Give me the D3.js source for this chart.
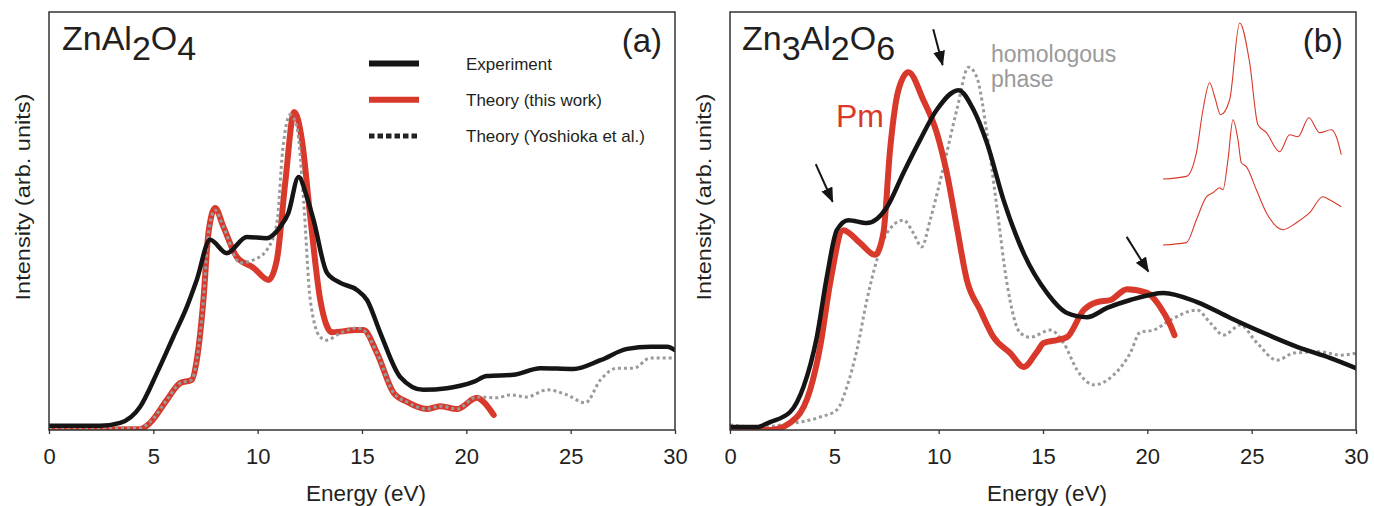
<!DOCTYPE html>
<html>
<head>
<meta charset="utf-8">
<script src="https://cdn.jsdelivr.net/npm/d3@7"></script>
<style>
body { margin: 0; background: #fff; }
text { font-family: "Liberation Sans", Arial, sans-serif; fill: #231f20; }
</style>
</head>
<body>
<svg id="chart"></svg>
<script>
// energy ticks shared by both panels
var energyTicks = [0, 5, 10, 15, 20, 25, 30];

// panel (a) ZnAl2O4 : [energy eV, intensity arb.]
var aExperiment = [[0,1.0],[2.45,1.0],[3.41,1.7],[4.36,5.5],[5.17,13.6],[5.95,22.2],[6.6,29.4],[7.08,35.9],[7.72,45.5],[8.52,42.3],[9.48,46.2],[10.44,45.9],[11.08,48.6],[11.47,51.9],[11.96,60.5],[12.36,55.7],[12.68,50.2],[13.32,37.6],[13.96,35.2],[14.76,33.5],[15.24,31.1],[15.88,23.2],[16.83,12.7],[17.94,9.6],[19.07,10.0],[20.34,11.5],[20.99,12.9],[22.25,13.2],[23.55,14.8],[25.13,14.6],[26.43,16.7],[27.71,19.4],[28.83,19.9],[29.63,19.9],[30,19.1]];
var aTheory = [[0,0],[4.36,0.2],[4.84,1.7],[5.65,7.2],[6.28,11.2],[6.84,12.0],[7.08,16.7],[7.4,31.1],[7.64,47.1],[7.96,53.1],[8.36,48.6],[9.0,41.4],[9.8,38.8],[10.52,35.9],[10.92,40.7],[11.32,59.1],[11.75,76.1],[12.12,69.4],[12.52,51.0],[13.0,31.1],[13.56,23.4],[14.76,23.9],[15.07,23.9],[15.72,18.4],[16.51,8.9],[17.16,6.7],[18.11,5.0],[18.75,5.7],[19.55,5.0],[20.51,7.7],[20.83,6.7],[21.31,3.6]];
var aYoshioka = [[0,0.5],[4.36,0.5],[4.84,1.9],[5.65,7.2],[6.28,11.2],[6.84,12.0],[7.08,16.7],[7.4,31.1],[7.64,47.1],[7.96,52.6],[8.36,48.6],[9.16,40.0],[9.8,40.7],[10.44,43.1],[10.92,49.5],[11.2,67.0],[11.56,75.4],[11.88,72.5],[12.2,55.0],[12.52,31.1],[13.0,22.2],[13.3,21.5],[13.96,23.2],[14.76,24.4],[15.07,23.9],[15.72,18.4],[16.51,8.9],[17.16,6.7],[18.11,5.0],[18.75,5.7],[19.55,5.0],[20.5,7.9],[21.47,7.7],[22.1,8.4],[22.9,7.9],[23.87,9.6],[24.83,8.4],[25.7,6.5],[26.43,12.0],[27.23,14.8],[28.03,14.8],[28.8,17.2],[29.9,17.2]];

// panel (b) Zn3Al2O6
var bExperiment = [[0,0.7],[1.28,0.7],[1.92,1.9],[2.88,4.3],[3.52,10.3],[4.16,22.2],[4.64,36.6],[5.12,47.8],[5.67,50.2],[6.56,49.5],[7.52,53.3],[8.31,61.5],[9.11,69.4],[9.91,76.6],[10.95,81.3],[11.67,76.6],[12.31,68.7],[13.11,55.0],[14.07,42.3],[15.19,32.8],[16.15,28.0],[17.11,27.0],[18.07,29.2],[19.18,31.1],[20.78,32.8],[22.38,30.6],[23.98,26.8],[25.58,23.2],[27.18,19.9],[28.78,17.2],[30,14.8]];
var bPm = [[0,0],[1.92,0],[3.2,3.1],[3.84,9.6],[4.32,19.9],[4.8,35.2],[5.43,47.8],[6.24,44.7],[6.95,41.9],[7.35,47.1],[7.67,67.0],[8.07,81.3],[8.55,85.6],[9.27,78.9],[9.91,71.1],[10.39,61.5],[10.87,48.6],[11.35,35.9],[11.99,28.7],[12.63,22.2],[13.43,18.4],[14.07,15.1],[14.71,18.7],[15.03,20.8],[15.67,21.5],[16.15,22.2],[16.95,28.7],[17.59,30.6],[18.23,31.1],[19.03,33.7],[19.99,32.8],[20.62,29.4],[21.1,25.1],[21.3,22.7]];
var bHomologous = [[0,1.2],[1.44,0.7],[2.72,1.4],[4.32,3.1],[5.12,4.8],[5.6,10.3],[6.08,19.1],[6.56,31.1],[7.04,40.7],[7.52,47.1],[8.31,50.2],[8.79,47.1],[9.19,43.8],[9.59,50.2],[10.23,62.9],[10.87,76.6],[11.43,86.8],[11.83,84.4],[12.31,71.1],[12.79,53.3],[13.27,35.2],[13.91,23.2],[14.39,22.2],[15.35,23.9],[15.99,20.8],[16.63,14.4],[17.43,10.8],[18.39,13.2],[19.18,18.4],[19.66,23.4],[20.3,23.9],[21.1,26.3],[22.38,28.7],[23.02,25.6],[23.66,22.7],[24.46,25.1],[25.26,20.8],[26.22,16.7],[27.02,18.4],[28.3,18.7],[29.26,17.9],[30,18.4]];

// small red inset spectra in panel (b)
var insetUpper = [[0,0],[3.92,1.7],[5.6,16.9],[6.7,44.4],[7.82,61.7],[8.66,52.7],[9.66,41.2],[11.17,50.8],[12.85,100],[14.52,74.6],[15.91,34.8],[17.32,29.7],[19.55,17.5],[21.22,28.4],[22.61,27.1],[24.46,39.3],[26.25,29.7],[28.21,31.6],[29.05,27.1],[29.88,15.6]];
var insetLower = [[0,0],[3.92,1.5],[5.6,16.2],[7.27,30.9],[8.38,33.5],[9.5,36.7],[10.05,35.4],[10.89,54.7],[11.73,80.3],[12.56,67.5],[13.13,52.7],[13.97,50.2],[15.65,35.4],[17.32,20.7],[20.1,9.8],[22.35,14.3],[24.58,20.7],[26.8,30.9],[27.92,29.0],[29.88,24.5]];

// arrows in panel (b): [from, to] in [energy, intensity]
var arrowsB = [
    [[9.74,95.9],[10.19,87.3]],
    [[4.11,63.6],[4.92,54.6]],
    [[19.01,46.2],[20.05,37.9]]
];

var legendItems = ["Experiment", "Theory (this work)", "Theory (Yoshioka et al.)"];

var width = 1374;
var height = 506;
var plotTop = 12, plotBottom = 430;
var red = "#d8392b", black = "#161414", grey = "#9a9a9a";

var svg = d3.select("#chart")
    .attr("width", width)
    .attr("height", height);

var yScale = d3.scaleLinear().domain([0, 100]).range([plotBottom, plotTop]);

var defs = svg.append("defs");
defs.append("marker")
    .attr("id", "head")
    .attr("markerUnits", "userSpaceOnUse")
    .attr("markerWidth", 15).attr("markerHeight", 12)
    .attr("viewBox", "0 0 15 12")
    .attr("refX", 14).attr("refY", 6)
    .attr("orient", "auto")
    .append("path")
    .attr("d", "M0,0 L15,6 L0,12 Z")
    .attr("fill", black);

function drawFrame(x, id, label) {
    defs.append("clipPath").attr("id", id)
        .append("rect")
        .attr("x", x.range()[0]).attr("y", plotTop)
        .attr("width", x.range()[1] - x.range()[0]).attr("height", plotBottom - plotTop);

    var axis = d3.axisBottom(x)
        .tickValues(energyTicks)
        .tickSize(4)
        .tickSizeOuter(0)
        .tickPadding(14);
    var g = svg.append("g")
        .attr("transform", "translate(0," + plotBottom + ")")
        .call(axis);
    g.select(".domain").remove();
    g.selectAll("line").attr("stroke", "#333").attr("stroke-width", 1.3);
    g.selectAll("text")
        .attr("font-size", 22)
        .attr("font-family", "Liberation Sans, Arial, sans-serif")
        .attr("fill", "#231f20");

    svg.append("text")
        .attr("x", (x.range()[0] + x.range()[1]) / 2 + 4)
        .attr("y", 501)
        .attr("text-anchor", "middle")
        .attr("font-size", 22.5)
        .text("Energy (eV)");

    svg.append("text")
        .attr("transform", "translate(" + (x.range()[0] - 19) + "," + ((plotTop + plotBottom) / 2 - 24) + ") rotate(-90) scale(1.15,1)")
        .attr("text-anchor", "middle")
        .attr("font-size", 20.5)
        .text("Intensity (arb. units)");

    svg.append("text")
        .attr("x", x.range()[1] - 13)
        .attr("y", 52)
        .attr("text-anchor", "end")
        .attr("font-size", 33)
        .text(label);
}

function drawCurve(x, clip, data, color, w, dash) {
    var line = d3.line()
        .x(function(d){ return x(d[0]); })
        .y(function(d){ return yScale(d[1]); })
        .curve(d3.curveMonotoneX);
    svg.append("path")
        .attr("clip-path", "url(#" + clip + ")")
        .attr("d", line(data))
        .attr("fill", "none")
        .attr("stroke", color)
        .attr("stroke-width", w)
        .attr("stroke-linejoin", "round")
        .attr("stroke-linecap", dash ? "butt" : "round")
        .attr("stroke-dasharray", dash || null);
}

function drawBorder(x) {
    svg.append("rect")
        .attr("x", x.range()[0]).attr("y", plotTop)
        .attr("width", x.range()[1] - x.range()[0]).attr("height", plotBottom - plotTop)
        .attr("fill", "none")
        .attr("stroke", "#333")
        .attr("stroke-width", 1.5);
}

function formula(x0, parts) {
    // parts: [text, isSubscript]
    var t = svg.append("text")
        .attr("x", x0).attr("y", 50)
        .attr("font-size", 34);
    var shift = 0;
    parts.forEach(function(p) {
        var dy = p[1] ? 10 - shift : -shift;
        shift = p[1] ? 10 : 0;
        t.append("tspan").attr("dy", dy).text(p[0]);
    });
}

// ---------- panel (a)
var xA = d3.scaleLinear().domain([0, 30]).range([49, 675]);
drawFrame(xA, "clipA", "(a)");
drawCurve(xA, "clipA", aTheory, red, 6);
drawCurve(xA, "clipA", aYoshioka, grey, 3, "3,3");
drawCurve(xA, "clipA", aExperiment, black, 4.5);
drawBorder(xA);
formula(62, [["ZnAl", false], ["2", true], ["O", false], ["4", true]]);

// legend
legendItems.forEach(function(name, i) {
    var ly = 63.5 + i * 36.3;
    svg.append("line")
        .attr("x1", 369).attr("x2", 419)
        .attr("y1", ly).attr("y2", ly)
        .attr("stroke", i === 0 ? black : (i === 1 ? red : "#222"))
        .attr("stroke-width", i === 2 ? 5 : 6)
        .attr("stroke-dasharray", i === 2 ? "5.5,3" : null);
    svg.append("text")
        .attr("x", 466).attr("y", ly + 6)
        .attr("font-size", 17)
        .text(name);
});

// ---------- panel (b)
var xB = d3.scaleLinear().domain([0, 30]).range([730, 1356]);
drawFrame(xB, "clipB", "(b)");
drawCurve(xB, "clipB", bHomologous, grey, 3, "3,3");
drawCurve(xB, "clipB", bPm, red, 6);
drawCurve(xB, "clipB", bExperiment, black, 4.5);
drawBorder(xB);
formula(742, [["Zn", false], ["3", true], ["Al", false], ["2", true], ["O", false], ["6", true]]);

svg.append("text")
    .attr("x", 836).attr("y", 127)
    .attr("font-size", 32)
    .style("fill", red)
    .text("Pm");

svg.append("text")
    .attr("x", 991).attr("y", 62)
    .attr("font-size", 23)
    .style("fill", "#9a9a9a")
    .selectAll("tspan")
    .data(["homologous", "phase"])
    .enter().append("tspan")
    .attr("x", 991)
    .attr("dy", function(d, i){ return i ? 25 : 0; })
    .text(function(d){ return d; });

svg.append("g").selectAll("line")
    .data(arrowsB)
    .enter().append("line")
    .attr("x1", function(d){ return xB(d[0][0]); })
    .attr("y1", function(d){ return yScale(d[0][1]); })
    .attr("x2", function(d){ return xB(d[1][0]); })
    .attr("y2", function(d){ return yScale(d[1][1]); })
    .attr("stroke", black)
    .attr("stroke-width", 2)
    .attr("marker-end", "url(#head)");

// inset
var insetX = d3.scaleLinear().domain([0, 30]).range([1163, 1342]);
var insetY = d3.scaleLinear().domain([0, 100]).range([179, 23]);
var insetLine = d3.line()
    .x(function(d){ return insetX(d[0]); })
    .y(function(d){ return insetY(d[1]); })
    .curve(d3.curveMonotoneX);
svg.append("path")
    .attr("d", insetLine(insetUpper))
    .attr("fill", "none").attr("stroke", red).attr("stroke-width", 1.1);
svg.append("path")
    .attr("transform", "translate(0,66)")
    .attr("d", insetLine(insetLower))
    .attr("fill", "none").attr("stroke", red).attr("stroke-width", 1.1);
</script>
</body>
</html>
